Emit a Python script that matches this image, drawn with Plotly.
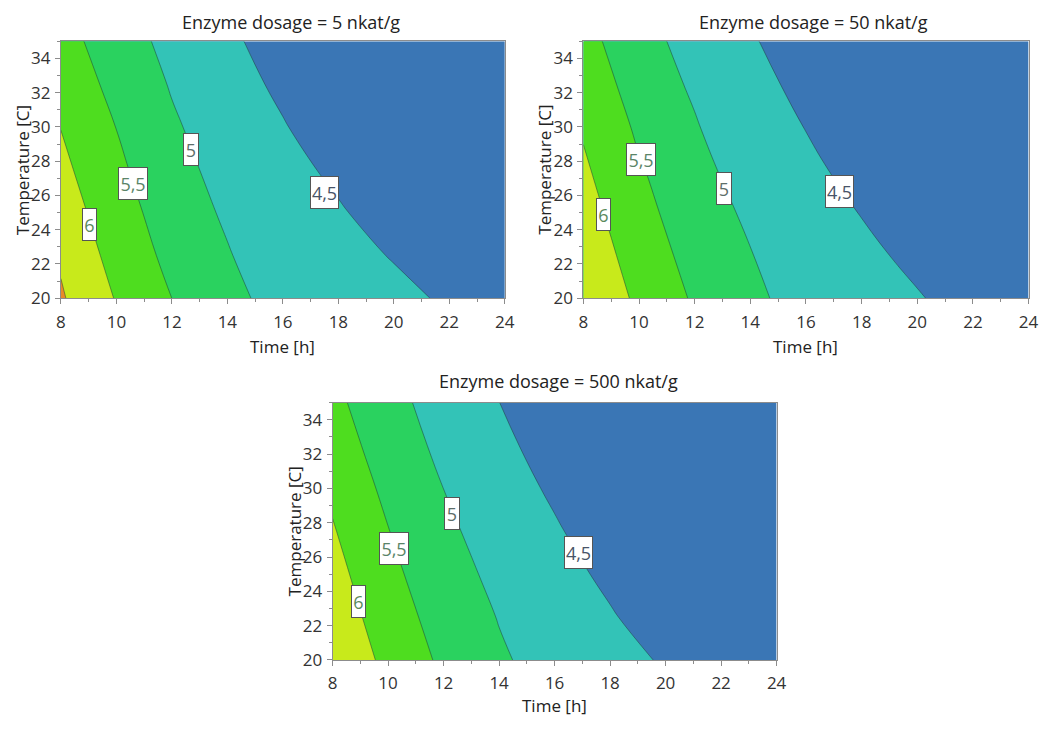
import plotly.graph_objects as go

# ---------------- data ----------------
time_h = [8, 10, 12, 14, 16, 18, 20, 22, 24]
temp_c = [20, 22.5, 25, 27.5, 30, 32.5, 35]

# response value (rows = temperature, columns = time)
z_dose_5 = [
    [6.552, 5.971, 5.499, 5.140, 4.8106, 4.675, 4.604, 4.444, 4.400],
    [6.438, 5.821, 5.375, 5.023, 4.790, 4.636, 4.476, 4.400, 4.330],
    [6.189, 5.787, 5.1825, 4.953, 4.686, 4.5296, 4.3696, 4.310, 4.260],
    [6.120, 5.587, 5.200, 4.800, 4.5976, 4.4376, 4.370, 4.310, 4.260],
    [5.990, 5.493, 5.062, 4.752, 4.5168, 4.3568, 4.240, 4.180, 4.130],
    [5.866, 5.343, 4.966, 4.608, 4.448, 4.242, 4.140, 4.070, 4.020],
    [5.703, 5.215, 4.874, 4.548, 4.388, 4.130, 4.020, 3.960, 3.920],
]
z_dose_50 = [
    [6.440, 5.907, 5.442, 5.105, 4.805, 4.635, 4.524, 4.364, 4.300],
    [6.333, 5.773, 5.333, 5.017, 4.770, 4.580, 4.420, 4.350, 4.290],
    [6.204, 5.645, 5.248, 4.915, 4.648, 4.488, 4.410, 4.350, 4.300],
    [6.071, 5.544, 5.146, 4.786, 4.564, 4.404, 4.330, 4.270, 4.220],
    [5.950, 5.421, 5.0387, 4.652, 4.492, 4.370, 4.300, 4.240, 4.190],
    [5.823, 5.280, 4.930, 4.5864, 4.4264, 4.216, 4.100, 4.020, 3.960],
    [5.673, 5.165, 4.835, 4.5256, 4.3656, 4.110, 4.000, 3.930, 3.880],
]
z_dose_500 = [
    [6.416, 5.876, 5.409, 5.061, 4.811, 4.624, 4.464, 4.390, 4.330],
    [6.289, 5.749, 5.296, 4.981, 4.725, 4.524, 4.364, 4.300, 4.240],
    [6.165, 5.624, 5.196, 4.885, 4.6024, 4.4424, 4.340, 4.280, 4.230],
    [6.037, 5.514, 5.113, 4.754, 4.528, 4.368, 4.290, 4.230, 4.180],
    [5.9125, 5.384, 4.998, 4.620, 4.460, 4.270, 4.180, 4.110, 4.060],
    [5.750, 5.269, 4.888, 4.5576, 4.3976, 4.180, 4.080, 4.000, 3.950],
    [5.627, 5.149, 4.810, 4.5016, 4.3416, 4.060, 3.960, 3.900, 3.860],
]

titles = ["Enzyme dosage = 5 nkat/g", "Enzyme dosage = 50 nkat/g", "Enzyme dosage = 500 nkat/g"]
level_start, level_end, level_step = 4.5, 6.5, 0.5

label_text = ["6", "5,5", "5", "4,5"]
label_t = [[9.03, 10.6, 12.7, 17.5], [8.73, 10.06, 13.05, 17.2], [8.92, 10.23, 12.3, 16.85]]
label_T = [[24.3, 26.7, 28.7, 26.2], [24.9, 28.1, 26.4, 26.25], [23.4, 26.5, 28.55, 26.27]]

x_ticks = [8, 10, 12, 14, 16, 18, 20, 22, 24]
y_ticks = [20, 22, 24, 26, 28, 30, 32, 34]

# ---------------- styling ----------------
W, H = 1059, 734
band_colors = ["#3a76b5", "#33c3b7", "#2ad25f", "#4edd1f", "#c8ea1b", "#e88a28"]
colorscale = [[i / 5, c] for i, c in enumerate(band_colors)]
label_colors = ["#5a8a5c", "#5a8468", "#5d6e6a", "#485468"]
label_w = [15, 30, 16, 29]
FONT = "Open Sans"

# plot areas in page pixels: (left, right, top, bottom)
areas = [(56.7, 507.0, 42.0, 302.7), (586.7, 1038.3, 42.0, 302.7), (332.3, 782.7, 408.7, 670.0)]
title_pos = [(290, 22), (820, 22), (561, 387)]
xtitle_center_y = [350, 350, 715]

zs = [z_dose_5, z_dose_50, z_dose_500]

fig = go.Figure()
annotations = []
layout = {}

for i, (z, (l, r, t, b)) in enumerate(zip(zs, areas)):
    sfx = "" if i == 0 else str(i + 1)
    fig.add_trace(go.Contour(
        x=time_h, y=temp_c, z=z,
        xaxis="x" + sfx, yaxis="y" + sfx,
        contours=dict(start=level_start, end=level_end, size=level_step,
                      coloring="fill", showlabels=False),
        colorscale=colorscale, showscale=False,
        line=dict(color="rgba(30,60,60,0.5)", width=1, smoothing=1.3),
        hoverinfo="skip",
    ))
    axis_common = dict(
        showgrid=False, zeroline=False, showline=True, linecolor="#8c8c8c",
        linewidth=1, mirror=True, ticks="outside", ticklen=5, tickcolor="#8c8c8c",
        tickfont=dict(family=FONT, size=17, color="#333333"),
        minor=dict(ticks="outside", ticklen=3, tickcolor="#8c8c8c", dtick=1, showgrid=False),
    )
    layout["xaxis" + sfx] = dict(axis_common, domain=[l / W, r / W], range=[8, 24],
                                 tickvals=x_ticks, anchor="y" + sfx, ticklabelstandoff=3)
    layout["yaxis" + sfx] = dict(axis_common, domain=[1 - b / H, 1 - t / H], range=[20, 35],
                                 tickvals=y_ticks, anchor="x" + sfx, ticklabelstandoff=1)
    # subplot title
    tx, ty = title_pos[i]
    annotations.append(dict(text=titles[i], x=tx / W, y=1 - ty / H, xref="paper", yref="paper",
                            showarrow=False, xanchor="center", yanchor="middle",
                            font=dict(family=FONT, size=18, color="#222222")))
    # axis titles
    annotations.append(dict(text="Time [h]", x=(l + r) / 2 / W,
                            y=1 - (xtitle_center_y[i] - 12) / H,
                            xref="paper", yref="paper", showarrow=False,
                            xanchor="center", yanchor="top",
                            font=dict(family=FONT, size=17, color="#222222")))
    annotations.append(dict(text="Temperature [C]", x=(l - 39) / W, y=1 - (t + b) / 2 / H,
                            xref="paper", yref="paper", showarrow=False, textangle=-90,
                            xanchor="center", yanchor="middle",
                            font=dict(family=FONT, size=17, color="#222222")))
    # contour labels
    for k, txt in enumerate(label_text):
        annotations.append(dict(text=txt, x=label_t[i][k], y=label_T[i][k],
                                xref="x" + sfx, yref="y" + sfx, showarrow=False,
                                xanchor="center", yanchor="middle",
                                bgcolor="white", bordercolor="#555555", borderwidth=1,
                                borderpad=1, width=label_w[k] - 4, height=29,
                                font=dict(family=FONT, size=18, color=label_colors[k])))

fig.update_layout(
    width=W, height=H, autosize=False,
    margin=dict(l=0, r=0, t=0, b=0),
    paper_bgcolor="white", plot_bgcolor="white",
    showlegend=False, annotations=annotations, **layout,
)

fig.write_html("out.html")
